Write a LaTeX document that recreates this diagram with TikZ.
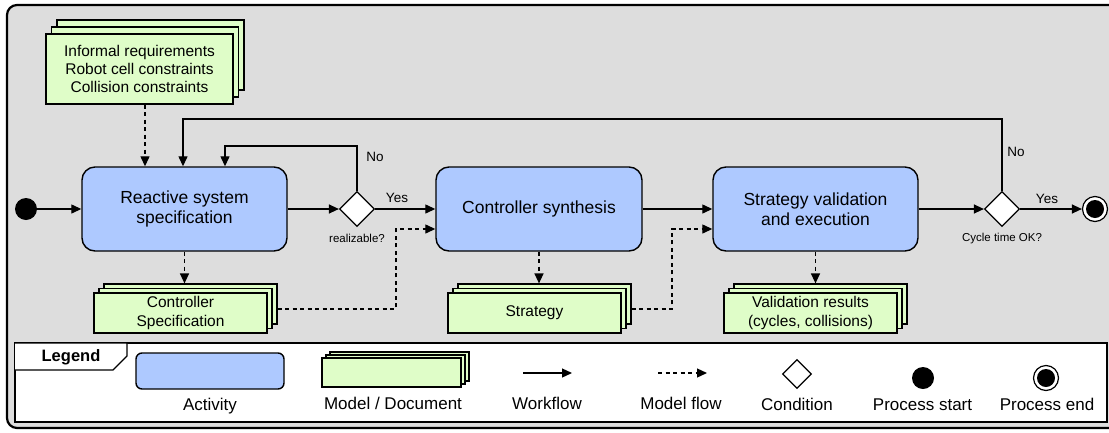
\documentclass[tikz,border=0pt]{standalone}
\usepackage{fontspec}
\setmainfont{Liberation Sans}
\usetikzlibrary{arrows.meta,shadows,shapes.geometric,calc}
\definecolor{framebg}{HTML}{DDDDDD}
\definecolor{actblue}{HTML}{AEC9FF}
\definecolor{docgreen}{HTML}{DFFDC8}

\tikzset{
  activity/.style={draw, line width=1.4pt, fill=actblue, rounded corners=13pt,
    minimum width=205pt, minimum height=84pt, align=center, inner sep=0pt,
    font=\fontsize{17.5}{19.5}\selectfont},
  document/.style={draw, line width=1.2pt, fill=docgreen, align=center, inner sep=0pt,
    font=\fontsize{15.5}{18.3}\selectfont},
  stack/.style 2 args={double copy shadow={shadow xshift=#1, shadow yshift=#2}},
  condition/.style={diamond, draw, line width=1.2pt, fill=white, inner sep=0pt,
    minimum width=35pt, minimum height=35pt},
  startdot/.style={circle, fill=black, inner sep=0pt, minimum size=22pt},
  enddot/.style={circle, draw, line width=1.2pt, fill=white, inner sep=0pt,
    minimum size=25pt, path picture={\fill[black] (path picture bounding box.center) circle (9pt);}},
  flow/.style={line width=1.3pt, -{Triangle[length=10pt,width=9pt]}},
  mflow/.style={flow, dash pattern=on 4pt off 3.5pt},
  lbl/.style={inner sep=0pt, font=\fontsize{13.5}{16}\selectfont},
  qlbl/.style={inner sep=0pt, font=\fontsize{11.5}{14}\selectfont},
  legtext/.style={inner sep=0pt, anchor=base, font=\fontsize{17}{20}\selectfont},
}

\begin{document}
\begin{tikzpicture}[x=1pt,y=-1pt]
  \useasboundingbox (0,0) rectangle (1109,432);
  \fill[white] (0,0) rectangle (1109,432);

  % outer frame, running past the right edge of the page
  \begin{scope}
    \clip (0,0) rectangle (1109,432);
    \draw[line width=2.2pt, fill=framebg, rounded corners=10pt] (7,5) rectangle (1130,428);
  \end{scope}

  % ---- process ----
  \node[startdot] (start) at (26,209) {};
  \node[activity] (rs) at (184.5,209) {Reactive system\\specification};
  \node[condition] (d1) at (357,209) {};
  \node[activity, minimum width=206pt] (cs) at (539,209) {Controller synthesis};
  \node[activity] (sv) at (815.5,209) {Strategy validation\\and execution};
  \node[condition] (d2) at (1002,209) {};
  \node[enddot] (stop) at (1095,209) {};

  \node[lbl] (yes1) at (397,198) {Yes};
  \node[lbl] (no1) at (375,157) {No};
  \node[qlbl] (q1) at (357,238) {realizable?};
  \node[lbl] (yes2) at (1047,199) {Yes};
  \node[lbl] (no2) at (1016,152) {No};
  \node[qlbl] (q2) at (1002,239) {Cycle time OK?};

  % ---- models and documents ----
  \node[document, stack={5.5pt}{7pt}, minimum width=187pt, minimum height=70pt]
    (req) at (139.5,69) {Informal requirements\\Robot cell constraints\\Collision constraints};
  \node[document, stack={5pt}{4.5pt}, minimum width=173pt, minimum height=40pt]
    (cspec) at (180.5,313) {Controller\\Specification};
  \node[document, stack={5pt}{4.5pt}, minimum width=173pt, minimum height=40pt]
    (strat) at (534.5,313) {Strategy};
  \node[document, stack={5pt}{4.5pt}, minimum width=173pt, minimum height=40pt]
    (vres) at (810.5,313) {Validation results\\(cycles, collisions)};

  % ---- workflow ----
  \draw[flow] (start) -- (rs.west);
  \draw[flow] (rs.east) -- (d1.west);
  \draw[flow] (d1.east) -- (cs.west);
  \draw[flow] (cs.east) -- (sv.west);
  \draw[flow] (sv.east) -- (d2.west);
  \draw[flow] (d2.east) -- (stop.west);

  \coordinate (loopA) at (225,146);
  \draw[flow] (d1.north) |- (loopA) -- (loopA |- rs.north);
  \coordinate (loopB) at (183,119);
  \draw[flow] (d2.north) |- (loopB) -- (loopB |- rs.north);

  % ---- model flow ----
  \coordinate (reqout) at ([xshift=5.5pt]req.south);
  \draw[mflow] (reqout) -- (reqout |- rs.north);

  \coordinate (csptop) at ([yshift=9pt]cspec.north);
  \draw[mflow] (rs.south) -- (rs.south |- csptop);
  \coordinate (sttop) at ([yshift=9pt]strat.north);
  \draw[mflow] (cs.south) -- (cs.south |- sttop);
  \coordinate (vrtop) at ([yshift=9pt]vres.north);
  \draw[mflow] (sv.south) -- (sv.south |- vrtop);

  \coordinate (cspout) at ([xshift=10pt,yshift=4pt]cspec.east);
  \coordinate (csin) at ([yshift=-20pt]cs.west);
  \coordinate (bend1) at (396,229);
  \draw[mflow] (cspout) -| (bend1) -- (csin);

  \coordinate (stout) at ([xshift=10pt,yshift=4pt]strat.east);
  \coordinate (svin) at ([yshift=-20pt]sv.west);
  \coordinate (bend2) at (672,229);
  \draw[mflow] (stout) -| (bend2) -- (svin);

  % ---- legend ----
  \draw[line width=2pt, fill=white] (15,343) rectangle (1107,422);
  \draw[line width=1.3pt, fill=white] (15,343) -- (127,343) -- (127,356) -- (113,370) -- (15,370);
  \node[inner sep=0pt, font=\fontsize{16.5}{19}\selectfont\bfseries] (legtitle) at (71,357) {Legend};

  \node[activity, minimum width=148pt, minimum height=36pt, rounded corners=6pt] (lact) at (210,371) {};
  \node[legtext] (tact) at (210,410.5) {Activity};

  \node[document, stack={4pt}{3pt}, minimum width=139pt, minimum height=29pt] (ldoc) at (391.5,372.5) {};
  \node[legtext] (tdoc) at (393,409) {Model / Document};

  \coordinate (wfa) at (523,373);
  \coordinate (wfb) at (572,373);
  \draw[flow] (wfa) -- (wfb);
  \node[legtext] (twf) at (547,409) {Workflow};

  \coordinate (mfa) at (658,373);
  \coordinate (mfb) at (707,373);
  \draw[mflow] (mfa) -- (mfb);
  \node[legtext] (tmf) at (681,409) {Model flow};

  \node[condition, minimum width=29pt, minimum height=29pt] (ldia) at (797,374) {};
  \node[legtext] (tcond) at (797,410) {Condition};

  \node[startdot] (lstart) at (923,378) {};
  \node[legtext] (tstart) at (922.5,410) {Process start};

  \node[enddot] (lend) at (1046,378) {};
  \node[legtext] (tend) at (1047,410) {Process end};
\end{tikzpicture}
\end{document}
